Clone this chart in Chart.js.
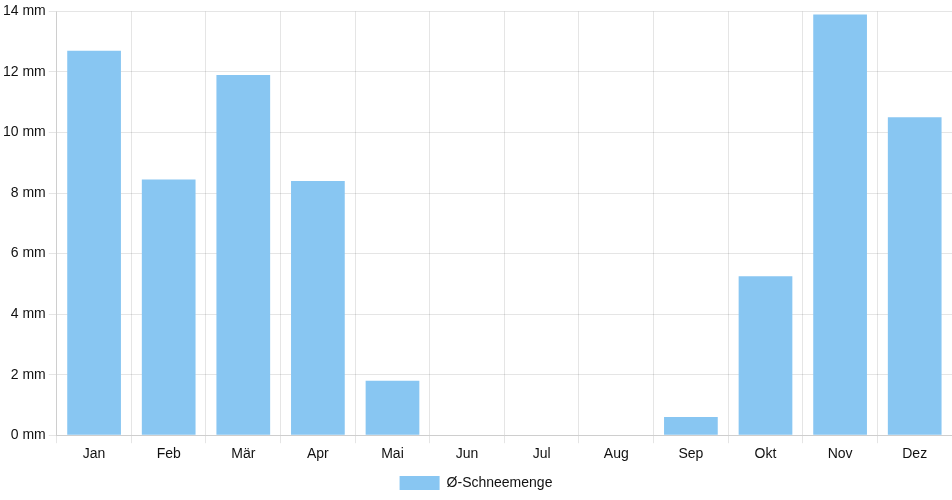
<!DOCTYPE html>
<html>
<head>
<meta charset="utf-8">
<script src="https://cdn.jsdelivr.net/npm/chart.js@4"></script>
<style>
  html, body { margin: 0; padding: 0; background: #fff; }
  .chart-wrap { width: 952px; height: 500px; position: relative; }
</style>
</head>
<body>
<div class="chart-wrap"><canvas id="snowChart"></canvas></div>
<script>
// Chart data
const months = ["Jan", "Feb", "Mär", "Apr", "Mai", "Jun", "Jul", "Aug", "Sep", "Okt", "Nov", "Dez"];
const snowAmount = [12.7, 8.45, 11.9, 8.4, 1.8, 0, 0, 0, 0.6, 5.25, 13.9, 10.5];
const seriesLabel = "Ø-Schneemenge";

Chart.defaults.font.family = "'Liberation Sans', Arial, sans-serif";
Chart.defaults.font.size = 14;
Chart.defaults.color = "#111";

const ctx = document.getElementById("snowChart").getContext("2d");
new Chart(ctx, {
  type: "bar",
  data: {
    labels: months,
    datasets: [
      {
        label: seriesLabel,
        data: snowAmount,
        backgroundColor: "#88c6f2",
        borderWidth: 0,
      },
    ],
  },
  options: {
    responsive: true,
    maintainAspectRatio: false,
    animation: false,
    layout: { padding: { top: 0, right: 0 } },
    scales: {
      y: {
        min: 0,
        max: 14,
        ticks: {
          stepSize: 2,
          callback: function (value) {
            return value + " mm";
          },
        },
        grid: { color: "rgba(0,0,0,0.1)" },
      },
      x: {
        grid: { color: "rgba(0,0,0,0.1)" },
      },
    },
    plugins: {
      legend: {
        position: "bottom",
        labels: { boxWidth: 40, boxHeight: 14 },
      },
      tooltip: { enabled: false },
    },
  },
});
</script>
</body>
</html>
